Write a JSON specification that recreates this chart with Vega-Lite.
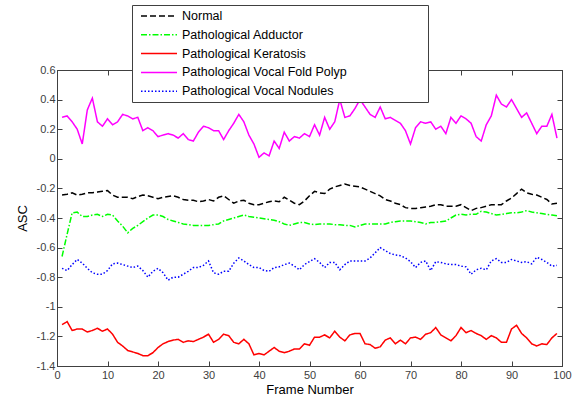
{
  "$schema": "https://vega.github.io/schema/vega-lite/v6.json",
  "width": 505,
  "height": 296,
  "autosize": {"type": "none"},
  "padding": {"left": 57, "top": 70, "right": 18, "bottom": 37},
  "background": "white",
  "config": {
    "font": "Liberation Sans",
    "view": {"stroke": "#404040", "strokeWidth": 1},
    "axis": {
      "grid": false,
      "domainColor": "#404040",
      "tickColor": "#404040",
      "labelColor": "#404040",
      "labelFont": "Liberation Sans",
      "labelFontSize": 11,
      "titleFont": "Liberation Sans",
      "titleFontSize": 13,
      "titleFontWeight": "normal",
      "titleColor": "black"
    }
  },
  "data": {"values": [
    {"f":1,"Normal":-0.245,"Pathological Adductor":-0.66,"Pathological Keratosis":-1.12,"Pathological Vocal Fold Polyp":0.28,"Pathological Vocal Nodules":-0.74},
    {"f":2,"Normal":-0.24,"Pathological Adductor":-0.51,"Pathological Keratosis":-1.10,"Pathological Vocal Fold Polyp":0.29,"Pathological Vocal Nodules":-0.755},
    {"f":3,"Normal":-0.23,"Pathological Adductor":-0.365,"Pathological Keratosis":-1.16,"Pathological Vocal Fold Polyp":0.25,"Pathological Vocal Nodules":-0.715},
    {"f":4,"Normal":-0.245,"Pathological Adductor":-0.36,"Pathological Keratosis":-1.15,"Pathological Vocal Fold Polyp":0.20,"Pathological Vocal Nodules":-0.68},
    {"f":5,"Normal":-0.24,"Pathological Adductor":-0.39,"Pathological Keratosis":-1.15,"Pathological Vocal Fold Polyp":0.10,"Pathological Vocal Nodules":-0.705},
    {"f":6,"Normal":-0.23,"Pathological Adductor":-0.39,"Pathological Keratosis":-1.17,"Pathological Vocal Fold Polyp":0.33,"Pathological Vocal Nodules":-0.74},
    {"f":7,"Normal":-0.23,"Pathological Adductor":-0.38,"Pathological Keratosis":-1.16,"Pathological Vocal Fold Polyp":0.41,"Pathological Vocal Nodules":-0.77},
    {"f":8,"Normal":-0.225,"Pathological Adductor":-0.375,"Pathological Keratosis":-1.145,"Pathological Vocal Fold Polyp":0.25,"Pathological Vocal Nodules":-0.78},
    {"f":9,"Normal":-0.22,"Pathological Adductor":-0.39,"Pathological Keratosis":-1.165,"Pathological Vocal Fold Polyp":0.22,"Pathological Vocal Nodules":-0.78},
    {"f":10,"Normal":-0.215,"Pathological Adductor":-0.375,"Pathological Keratosis":-1.15,"Pathological Vocal Fold Polyp":0.27,"Pathological Vocal Nodules":-0.755},
    {"f":11,"Normal":-0.245,"Pathological Adductor":-0.38,"Pathological Keratosis":-1.185,"Pathological Vocal Fold Polyp":0.23,"Pathological Vocal Nodules":-0.71},
    {"f":12,"Normal":-0.26,"Pathological Adductor":-0.42,"Pathological Keratosis":-1.24,"Pathological Vocal Fold Polyp":0.25,"Pathological Vocal Nodules":-0.705},
    {"f":13,"Normal":-0.26,"Pathological Adductor":-0.455,"Pathological Keratosis":-1.265,"Pathological Vocal Fold Polyp":0.30,"Pathological Vocal Nodules":-0.715},
    {"f":14,"Normal":-0.26,"Pathological Adductor":-0.50,"Pathological Keratosis":-1.295,"Pathological Vocal Fold Polyp":0.29,"Pathological Vocal Nodules":-0.725},
    {"f":15,"Normal":-0.27,"Pathological Adductor":-0.47,"Pathological Keratosis":-1.305,"Pathological Vocal Fold Polyp":0.27,"Pathological Vocal Nodules":-0.735},
    {"f":16,"Normal":-0.255,"Pathological Adductor":-0.45,"Pathological Keratosis":-1.315,"Pathological Vocal Fold Polyp":0.28,"Pathological Vocal Nodules":-0.725},
    {"f":17,"Normal":-0.245,"Pathological Adductor":-0.425,"Pathological Keratosis":-1.33,"Pathological Vocal Fold Polyp":0.19,"Pathological Vocal Nodules":-0.755},
    {"f":18,"Normal":-0.25,"Pathological Adductor":-0.40,"Pathological Keratosis":-1.33,"Pathological Vocal Fold Polyp":0.21,"Pathological Vocal Nodules":-0.80},
    {"f":19,"Normal":-0.26,"Pathological Adductor":-0.38,"Pathological Keratosis":-1.31,"Pathological Vocal Fold Polyp":0.19,"Pathological Vocal Nodules":-0.76},
    {"f":20,"Normal":-0.27,"Pathological Adductor":-0.38,"Pathological Keratosis":-1.275,"Pathological Vocal Fold Polyp":0.15,"Pathological Vocal Nodules":-0.74},
    {"f":21,"Normal":-0.26,"Pathological Adductor":-0.39,"Pathological Keratosis":-1.25,"Pathological Vocal Fold Polyp":0.16,"Pathological Vocal Nodules":-0.77},
    {"f":22,"Normal":-0.255,"Pathological Adductor":-0.41,"Pathological Keratosis":-1.235,"Pathological Vocal Fold Polyp":0.17,"Pathological Vocal Nodules":-0.82},
    {"f":23,"Normal":-0.25,"Pathological Adductor":-0.42,"Pathological Keratosis":-1.225,"Pathological Vocal Fold Polyp":0.16,"Pathological Vocal Nodules":-0.80},
    {"f":24,"Normal":-0.26,"Pathological Adductor":-0.43,"Pathological Keratosis":-1.22,"Pathological Vocal Fold Polyp":0.14,"Pathological Vocal Nodules":-0.80},
    {"f":25,"Normal":-0.275,"Pathological Adductor":-0.44,"Pathological Keratosis":-1.24,"Pathological Vocal Fold Polyp":0.17,"Pathological Vocal Nodules":-0.78},
    {"f":26,"Normal":-0.28,"Pathological Adductor":-0.445,"Pathological Keratosis":-1.23,"Pathological Vocal Fold Polyp":0.13,"Pathological Vocal Nodules":-0.76},
    {"f":27,"Normal":-0.28,"Pathological Adductor":-0.45,"Pathological Keratosis":-1.235,"Pathological Vocal Fold Polyp":0.12,"Pathological Vocal Nodules":-0.735},
    {"f":28,"Normal":-0.29,"Pathological Adductor":-0.45,"Pathological Keratosis":-1.22,"Pathological Vocal Fold Polyp":0.18,"Pathological Vocal Nodules":-0.735},
    {"f":29,"Normal":-0.285,"Pathological Adductor":-0.45,"Pathological Keratosis":-1.205,"Pathological Vocal Fold Polyp":0.22,"Pathological Vocal Nodules":-0.72},
    {"f":30,"Normal":-0.275,"Pathological Adductor":-0.45,"Pathological Keratosis":-1.185,"Pathological Vocal Fold Polyp":0.21,"Pathological Vocal Nodules":-0.69},
    {"f":31,"Normal":-0.285,"Pathological Adductor":-0.445,"Pathological Keratosis":-1.24,"Pathological Vocal Fold Polyp":0.19,"Pathological Vocal Nodules":-0.77},
    {"f":32,"Normal":-0.26,"Pathological Adductor":-0.44,"Pathological Keratosis":-1.22,"Pathological Vocal Fold Polyp":0.19,"Pathological Vocal Nodules":-0.78},
    {"f":33,"Normal":-0.25,"Pathological Adductor":-0.42,"Pathological Keratosis":-1.185,"Pathological Vocal Fold Polyp":0.13,"Pathological Vocal Nodules":-0.76},
    {"f":34,"Normal":-0.275,"Pathological Adductor":-0.41,"Pathological Keratosis":-1.195,"Pathological Vocal Fold Polyp":0.19,"Pathological Vocal Nodules":-0.76},
    {"f":35,"Normal":-0.30,"Pathological Adductor":-0.40,"Pathological Keratosis":-1.24,"Pathological Vocal Fold Polyp":0.24,"Pathological Vocal Nodules":-0.705},
    {"f":36,"Normal":-0.285,"Pathological Adductor":-0.39,"Pathological Keratosis":-1.25,"Pathological Vocal Fold Polyp":0.30,"Pathological Vocal Nodules":-0.67},
    {"f":37,"Normal":-0.28,"Pathological Adductor":-0.38,"Pathological Keratosis":-1.22,"Pathological Vocal Fold Polyp":0.25,"Pathological Vocal Nodules":-0.69},
    {"f":38,"Normal":-0.30,"Pathological Adductor":-0.39,"Pathological Keratosis":-1.25,"Pathological Vocal Fold Polyp":0.16,"Pathological Vocal Nodules":-0.715},
    {"f":39,"Normal":-0.31,"Pathological Adductor":-0.395,"Pathological Keratosis":-1.325,"Pathological Vocal Fold Polyp":0.10,"Pathological Vocal Nodules":-0.735},
    {"f":40,"Normal":-0.31,"Pathological Adductor":-0.40,"Pathological Keratosis":-1.315,"Pathological Vocal Fold Polyp":0.01,"Pathological Vocal Nodules":-0.735},
    {"f":41,"Normal":-0.30,"Pathological Adductor":-0.405,"Pathological Keratosis":-1.325,"Pathological Vocal Fold Polyp":0.04,"Pathological Vocal Nodules":-0.755},
    {"f":42,"Normal":-0.29,"Pathological Adductor":-0.41,"Pathological Keratosis":-1.30,"Pathological Vocal Fold Polyp":0.02,"Pathological Vocal Nodules":-0.76},
    {"f":43,"Normal":-0.285,"Pathological Adductor":-0.415,"Pathological Keratosis":-1.275,"Pathological Vocal Fold Polyp":0.12,"Pathological Vocal Nodules":-0.735},
    {"f":44,"Normal":-0.29,"Pathological Adductor":-0.425,"Pathological Keratosis":-1.30,"Pathological Vocal Fold Polyp":0.07,"Pathological Vocal Nodules":-0.73},
    {"f":45,"Normal":-0.26,"Pathological Adductor":-0.44,"Pathological Keratosis":-1.31,"Pathological Vocal Fold Polyp":0.18,"Pathological Vocal Nodules":-0.715},
    {"f":46,"Normal":-0.28,"Pathological Adductor":-0.45,"Pathological Keratosis":-1.30,"Pathological Vocal Fold Polyp":0.12,"Pathological Vocal Nodules":-0.705},
    {"f":47,"Normal":-0.30,"Pathological Adductor":-0.44,"Pathological Keratosis":-1.285,"Pathological Vocal Fold Polyp":0.15,"Pathological Vocal Nodules":-0.725},
    {"f":48,"Normal":-0.31,"Pathological Adductor":-0.43,"Pathological Keratosis":-1.285,"Pathological Vocal Fold Polyp":0.14,"Pathological Vocal Nodules":-0.75},
    {"f":49,"Normal":-0.285,"Pathological Adductor":-0.43,"Pathological Keratosis":-1.25,"Pathological Vocal Fold Polyp":0.17,"Pathological Vocal Nodules":-0.715},
    {"f":50,"Normal":-0.25,"Pathological Adductor":-0.44,"Pathological Keratosis":-1.26,"Pathological Vocal Fold Polyp":0.15,"Pathological Vocal Nodules":-0.695},
    {"f":51,"Normal":-0.22,"Pathological Adductor":-0.445,"Pathological Keratosis":-1.205,"Pathological Vocal Fold Polyp":0.23,"Pathological Vocal Nodules":-0.675},
    {"f":52,"Normal":-0.23,"Pathological Adductor":-0.44,"Pathological Keratosis":-1.205,"Pathological Vocal Fold Polyp":0.16,"Pathological Vocal Nodules":-0.70},
    {"f":53,"Normal":-0.235,"Pathological Adductor":-0.44,"Pathological Keratosis":-1.19,"Pathological Vocal Fold Polyp":0.28,"Pathological Vocal Nodules":-0.735},
    {"f":54,"Normal":-0.205,"Pathological Adductor":-0.44,"Pathological Keratosis":-1.21,"Pathological Vocal Fold Polyp":0.20,"Pathological Vocal Nodules":-0.70},
    {"f":55,"Normal":-0.19,"Pathological Adductor":-0.445,"Pathological Keratosis":-1.165,"Pathological Vocal Fold Polyp":0.25,"Pathological Vocal Nodules":-0.70},
    {"f":56,"Normal":-0.18,"Pathological Adductor":-0.445,"Pathological Keratosis":-1.205,"Pathological Vocal Fold Polyp":0.40,"Pathological Vocal Nodules":-0.75},
    {"f":57,"Normal":-0.17,"Pathological Adductor":-0.45,"Pathological Keratosis":-1.23,"Pathological Vocal Fold Polyp":0.28,"Pathological Vocal Nodules":-0.715},
    {"f":58,"Normal":-0.18,"Pathological Adductor":-0.45,"Pathological Keratosis":-1.19,"Pathological Vocal Fold Polyp":0.29,"Pathological Vocal Nodules":-0.69},
    {"f":59,"Normal":-0.185,"Pathological Adductor":-0.46,"Pathological Keratosis":-1.18,"Pathological Vocal Fold Polyp":0.34,"Pathological Vocal Nodules":-0.69},
    {"f":60,"Normal":-0.19,"Pathological Adductor":-0.45,"Pathological Keratosis":-1.18,"Pathological Vocal Fold Polyp":0.40,"Pathological Vocal Nodules":-0.69},
    {"f":61,"Normal":-0.205,"Pathological Adductor":-0.44,"Pathological Keratosis":-1.25,"Pathological Vocal Fold Polyp":0.35,"Pathological Vocal Nodules":-0.69},
    {"f":62,"Normal":-0.22,"Pathological Adductor":-0.44,"Pathological Keratosis":-1.255,"Pathological Vocal Fold Polyp":0.30,"Pathological Vocal Nodules":-0.67},
    {"f":63,"Normal":-0.235,"Pathological Adductor":-0.44,"Pathological Keratosis":-1.28,"Pathological Vocal Fold Polyp":0.28,"Pathological Vocal Nodules":-0.635},
    {"f":64,"Normal":-0.25,"Pathological Adductor":-0.44,"Pathological Keratosis":-1.27,"Pathological Vocal Fold Polyp":0.35,"Pathological Vocal Nodules":-0.60},
    {"f":65,"Normal":-0.275,"Pathological Adductor":-0.44,"Pathological Keratosis":-1.225,"Pathological Vocal Fold Polyp":0.27,"Pathological Vocal Nodules":-0.62},
    {"f":66,"Normal":-0.285,"Pathological Adductor":-0.43,"Pathological Keratosis":-1.21,"Pathological Vocal Fold Polyp":0.28,"Pathological Vocal Nodules":-0.64},
    {"f":67,"Normal":-0.30,"Pathological Adductor":-0.425,"Pathological Keratosis":-1.25,"Pathological Vocal Fold Polyp":0.26,"Pathological Vocal Nodules":-0.65},
    {"f":68,"Normal":-0.31,"Pathological Adductor":-0.42,"Pathological Keratosis":-1.225,"Pathological Vocal Fold Polyp":0.24,"Pathological Vocal Nodules":-0.655},
    {"f":69,"Normal":-0.33,"Pathological Adductor":-0.42,"Pathological Keratosis":-1.25,"Pathological Vocal Fold Polyp":0.19,"Pathological Vocal Nodules":-0.67},
    {"f":70,"Normal":-0.335,"Pathological Adductor":-0.42,"Pathological Keratosis":-1.21,"Pathological Vocal Fold Polyp":0.10,"Pathological Vocal Nodules":-0.695},
    {"f":71,"Normal":-0.335,"Pathological Adductor":-0.425,"Pathological Keratosis":-1.205,"Pathological Vocal Fold Polyp":0.21,"Pathological Vocal Nodules":-0.735},
    {"f":72,"Normal":-0.33,"Pathological Adductor":-0.43,"Pathological Keratosis":-1.22,"Pathological Vocal Fold Polyp":0.25,"Pathological Vocal Nodules":-0.70},
    {"f":73,"Normal":-0.325,"Pathological Adductor":-0.44,"Pathological Keratosis":-1.185,"Pathological Vocal Fold Polyp":0.24,"Pathological Vocal Nodules":-0.69},
    {"f":74,"Normal":-0.32,"Pathological Adductor":-0.43,"Pathological Keratosis":-1.175,"Pathological Vocal Fold Polyp":0.25,"Pathological Vocal Nodules":-0.755},
    {"f":75,"Normal":-0.31,"Pathological Adductor":-0.43,"Pathological Keratosis":-1.14,"Pathological Vocal Fold Polyp":0.20,"Pathological Vocal Nodules":-0.695},
    {"f":76,"Normal":-0.31,"Pathological Adductor":-0.425,"Pathological Keratosis":-1.19,"Pathological Vocal Fold Polyp":0.22,"Pathological Vocal Nodules":-0.70},
    {"f":77,"Normal":-0.32,"Pathological Adductor":-0.42,"Pathological Keratosis":-1.21,"Pathological Vocal Fold Polyp":0.17,"Pathological Vocal Nodules":-0.71},
    {"f":78,"Normal":-0.32,"Pathological Adductor":-0.40,"Pathological Keratosis":-1.23,"Pathological Vocal Fold Polyp":0.28,"Pathological Vocal Nodules":-0.715},
    {"f":79,"Normal":-0.32,"Pathological Adductor":-0.38,"Pathological Keratosis":-1.195,"Pathological Vocal Fold Polyp":0.24,"Pathological Vocal Nodules":-0.715},
    {"f":80,"Normal":-0.31,"Pathological Adductor":-0.375,"Pathological Keratosis":-1.14,"Pathological Vocal Fold Polyp":0.29,"Pathological Vocal Nodules":-0.725},
    {"f":81,"Normal":-0.33,"Pathological Adductor":-0.38,"Pathological Keratosis":-1.175,"Pathological Vocal Fold Polyp":0.27,"Pathological Vocal Nodules":-0.73},
    {"f":82,"Normal":-0.35,"Pathological Adductor":-0.375,"Pathological Keratosis":-1.16,"Pathological Vocal Fold Polyp":0.24,"Pathological Vocal Nodules":-0.78},
    {"f":83,"Normal":-0.335,"Pathological Adductor":-0.375,"Pathological Keratosis":-1.18,"Pathological Vocal Fold Polyp":0.15,"Pathological Vocal Nodules":-0.75},
    {"f":84,"Normal":-0.33,"Pathological Adductor":-0.355,"Pathological Keratosis":-1.195,"Pathological Vocal Fold Polyp":0.12,"Pathological Vocal Nodules":-0.74},
    {"f":85,"Normal":-0.32,"Pathological Adductor":-0.36,"Pathological Keratosis":-1.22,"Pathological Vocal Fold Polyp":0.23,"Pathological Vocal Nodules":-0.75},
    {"f":86,"Normal":-0.31,"Pathological Adductor":-0.37,"Pathological Keratosis":-1.195,"Pathological Vocal Fold Polyp":0.29,"Pathological Vocal Nodules":-0.69},
    {"f":87,"Normal":-0.31,"Pathological Adductor":-0.38,"Pathological Keratosis":-1.21,"Pathological Vocal Fold Polyp":0.43,"Pathological Vocal Nodules":-0.675},
    {"f":88,"Normal":-0.31,"Pathological Adductor":-0.375,"Pathological Keratosis":-1.24,"Pathological Vocal Fold Polyp":0.37,"Pathological Vocal Nodules":-0.70},
    {"f":89,"Normal":-0.285,"Pathological Adductor":-0.37,"Pathological Keratosis":-1.24,"Pathological Vocal Fold Polyp":0.35,"Pathological Vocal Nodules":-0.70},
    {"f":90,"Normal":-0.265,"Pathological Adductor":-0.365,"Pathological Keratosis":-1.15,"Pathological Vocal Fold Polyp":0.40,"Pathological Vocal Nodules":-0.68},
    {"f":91,"Normal":-0.235,"Pathological Adductor":-0.365,"Pathological Keratosis":-1.125,"Pathological Vocal Fold Polyp":0.34,"Pathological Vocal Nodules":-0.69},
    {"f":92,"Normal":-0.205,"Pathological Adductor":-0.36,"Pathological Keratosis":-1.18,"Pathological Vocal Fold Polyp":0.28,"Pathological Vocal Nodules":-0.70},
    {"f":93,"Normal":-0.23,"Pathological Adductor":-0.35,"Pathological Keratosis":-1.21,"Pathological Vocal Fold Polyp":0.31,"Pathological Vocal Nodules":-0.695},
    {"f":94,"Normal":-0.24,"Pathological Adductor":-0.36,"Pathological Keratosis":-1.25,"Pathological Vocal Fold Polyp":0.24,"Pathological Vocal Nodules":-0.71},
    {"f":95,"Normal":-0.245,"Pathological Adductor":-0.365,"Pathological Keratosis":-1.265,"Pathological Vocal Fold Polyp":0.17,"Pathological Vocal Nodules":-0.665},
    {"f":96,"Normal":-0.26,"Pathological Adductor":-0.37,"Pathological Keratosis":-1.25,"Pathological Vocal Fold Polyp":0.22,"Pathological Vocal Nodules":-0.68},
    {"f":97,"Normal":-0.275,"Pathological Adductor":-0.375,"Pathological Keratosis":-1.255,"Pathological Vocal Fold Polyp":0.22,"Pathological Vocal Nodules":-0.70},
    {"f":98,"Normal":-0.305,"Pathological Adductor":-0.38,"Pathological Keratosis":-1.21,"Pathological Vocal Fold Polyp":0.30,"Pathological Vocal Nodules":-0.725},
    {"f":99,"Normal":-0.30,"Pathological Adductor":-0.385,"Pathological Keratosis":-1.18,"Pathological Vocal Fold Polyp":0.14,"Pathological Vocal Nodules":-0.72}
  ]},
  "transform": [
    {"fold": ["Normal", "Pathological Adductor", "Pathological Keratosis", "Pathological Vocal Fold Polyp", "Pathological Vocal Nodules"], "as": ["series", "v"]}
  ],
  "layer": [
    {
      "mark": {"type": "line", "strokeWidth": 1.5, "clip": true},
      "encoding": {
        "x": {"field": "f", "type": "quantitative",
          "scale": {"domain": [0, 100], "nice": false, "zero": false},
          "axis": {"title": "Frame Number", "values": [0,10,20,30,40,50,60,70,80,90,100], "tickSize": -5, "labelPadding": 8, "titlePadding": 3, "labelFlush": false}},
        "y": {"field": "v", "type": "quantitative",
          "scale": {"domain": [-1.4, 0.6], "nice": false, "zero": false},
          "axis": {"title": "ASC", "values": [-1.4,-1.2,-1,-0.8,-0.6,-0.4,-0.2,0,0.2,0.4,0.6], "tickSize": -5, "labelPadding": 7, "titlePadding": 7,
            "labelExpr": "datum.value == 0 ? '0' : toString(round(datum.value*10)/10)"}},
        "color": {"field": "series", "type": "nominal",
          "scale": {"domain": ["Normal", "Pathological Adductor", "Pathological Keratosis", "Pathological Vocal Fold Polyp", "Pathological Vocal Nodules"],
                    "range": ["#000000", "#00ff00", "#ff0000", "#ff00ff", "#0000ff"]},
          "legend": {"title": null, "orient": "none", "legendX": 75, "legendY": -65, "symbolType": "M-3,0H3", "symbolSize": 144, "symbolStrokeWidth": 1.5, "symbolOffset": 16, "padding": 4, "labelOffset": 16, "labelFontSize": 12.5, "labelColor": "black", "labelFont": "Liberation Sans", "labelLimit": 500, "rowPadding": 4.8, "fillColor": "white", "strokeColor": "#404040",
            "labelExpr": "datum.label + '\u00a0\u00a0\u00a0\u00a0\u00a0\u00a0\u00a0\u00a0\u00a0\u00a0\u00a0\u00a0\u00a0\u00a0\u00a0\u00a0\u00a0\u00a0\u00a0\u00a0\u00a0\u00a0\u200b'"}},
        "strokeDash": {"field": "series", "type": "nominal",
          "scale": {"domain": ["Normal", "Pathological Adductor", "Pathological Keratosis", "Pathological Vocal Fold Polyp", "Pathological Vocal Nodules"],
                    "range": [[6, 3], [6, 2, 1.5, 2], [1, 0], [1, 0], [1.5, 2]]},
          "legend": {"title": null, "orient": "none", "legendX": 75, "legendY": -65, "symbolType": "M-3,0H3", "symbolSize": 144, "symbolStrokeWidth": 1.5, "symbolOffset": 16, "padding": 4, "labelOffset": 16, "labelFontSize": 12.5, "labelColor": "black", "labelFont": "Liberation Sans", "labelLimit": 500, "rowPadding": 4.8, "fillColor": "white", "strokeColor": "#404040",
            "labelExpr": "datum.label + '\u00a0\u00a0\u00a0\u00a0\u00a0\u00a0\u00a0\u00a0\u00a0\u00a0\u00a0\u00a0\u00a0\u00a0\u00a0\u00a0\u00a0\u00a0\u00a0\u00a0\u00a0\u00a0\u200b'"}}
      }
    },
    {
      "mark": {"type": "line", "opacity": 0},
      "encoding": {
        "x": {"field": "f", "type": "quantitative",
          "axis": {"orient": "top", "title": null, "labels": false, "values": [0,10,20,30,40,50,60,70,80,90,100], "tickSize": -5}},
        "y": {"field": "v", "type": "quantitative",
          "axis": {"orient": "right", "title": null, "labels": false, "values": [-1.4,-1.2,-1,-0.8,-0.6,-0.4,-0.2,0,0.2,0.4,0.6], "tickSize": -5}},
        "detail": {"field": "series"}
      }
    }
  ],
  "resolve": {"axis": {"x": "independent", "y": "independent"}}
}
